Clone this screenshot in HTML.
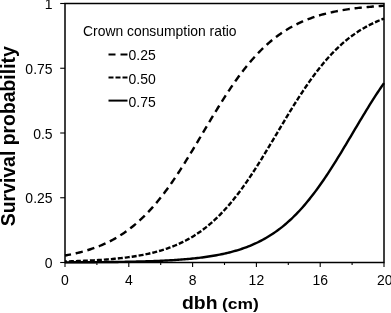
<!DOCTYPE html>
<html><head><meta charset="utf-8"><title>Survival probability</title>
<style>
html,body{margin:0;padding:0;background:#fff;}
svg{display:block;font-family:"Liberation Sans",sans-serif;}
</style></head><body>
<svg width="391" height="313" viewBox="0 0 391 313">
<rect width="391" height="313" fill="#fff"/>
<g fill="none" stroke="#000" stroke-width="2.4">
<path d="M65.00,255.51 L66.59,255.22 L68.19,254.92 L69.78,254.61 L71.38,254.29 L72.97,253.95 L74.57,253.60 L76.16,253.24 L77.76,252.86 L79.36,252.47 L80.95,252.06 L82.55,251.64 L84.14,251.20 L85.73,250.74 L87.33,250.26 L88.92,249.77 L90.52,249.26 L92.11,248.73 L93.71,248.18 L95.31,247.60 L96.90,247.01 L98.50,246.40 L100.09,245.76 L101.69,245.09 L103.28,244.41 L104.88,243.70 L106.47,242.96 L108.06,242.20 L109.66,241.41 L111.25,240.59 L112.85,239.74 L114.44,238.87 L116.04,237.96 L117.64,237.02 L119.23,236.05 L120.83,235.05 L122.42,234.02 L124.02,232.95 L125.61,231.84 L127.20,230.70 L128.80,229.53 L130.39,228.32 L131.99,227.06 L133.59,225.78 L135.18,224.45 L136.78,223.08 L138.37,221.67 L139.97,220.23 L141.56,218.74 L143.16,217.21 L144.75,215.64 L146.34,214.02 L147.94,212.37 L149.53,210.67 L151.13,208.93 L152.72,207.14 L154.32,205.31 L155.91,203.44 L157.51,201.53 L159.11,199.57 L160.70,197.57 L162.29,195.53 L163.89,193.45 L165.49,191.33 L167.08,189.17 L168.68,186.97 L170.27,184.73 L171.87,182.45 L173.46,180.14 L175.06,177.79 L176.65,175.41 L178.25,172.99 L179.84,170.55 L181.44,168.07 L183.03,165.57 L184.62,163.04 L186.22,160.48 L187.81,157.91 L189.41,155.31 L191.00,152.69 L192.60,150.06 L194.19,147.41 L195.79,144.75 L197.39,142.08 L198.98,139.41 L200.57,136.72 L202.17,134.04 L203.76,131.35 L205.36,128.66 L206.95,125.98 L208.55,123.31 L210.15,120.64 L211.74,117.98 L213.34,115.34 L214.93,112.71 L216.53,110.10 L218.12,107.50 L219.71,104.93 L221.31,102.38 L222.91,99.86 L224.50,97.36 L226.09,94.89 L227.69,92.45 L229.29,90.04 L230.88,87.67 L232.47,85.33 L234.07,83.02 L235.66,80.75 L237.26,78.52 L238.85,76.33 L240.45,74.18 L242.05,72.07 L243.64,69.99 L245.24,67.96 L246.83,65.98 L248.43,64.03 L250.02,62.13 L251.61,60.27 L253.21,58.45 L254.81,56.67 L256.40,54.94 L258.00,53.25 L259.59,51.60 L261.19,50.00 L262.78,48.44 L264.38,46.92 L265.97,45.44 L267.56,44.00 L269.16,42.60 L270.75,41.24 L272.35,39.93 L273.94,38.65 L275.54,37.40 L277.13,36.20 L278.73,35.03 L280.32,33.90 L281.92,32.80 L283.51,31.74 L285.11,30.72 L286.71,29.72 L288.30,28.76 L289.89,27.83 L291.49,26.93 L293.08,26.06 L294.68,25.22 L296.27,24.41 L297.87,23.62 L299.47,22.87 L301.06,22.14 L302.66,21.43 L304.25,20.75 L305.84,20.10 L307.44,19.46 L309.03,18.85 L310.63,18.26 L312.23,17.70 L313.82,17.15 L315.42,16.62 L317.01,16.12 L318.61,15.63 L320.20,15.16 L321.80,14.70 L323.39,14.27 L324.99,13.85 L326.58,13.44 L328.18,13.05 L329.77,12.68 L331.37,12.32 L332.96,11.97 L334.55,11.64 L336.15,11.32 L337.75,11.01 L339.34,10.71 L340.94,10.43 L342.53,10.15 L344.12,9.89 L345.72,9.63 L347.31,9.39 L348.91,9.16 L350.50,8.93 L352.10,8.71 L353.70,8.51 L355.29,8.31 L356.88,8.12 L358.48,7.93 L360.07,7.75 L361.67,7.58 L363.26,7.42 L364.86,7.26 L366.45,7.11 L368.05,6.97 L369.65,6.83 L371.24,6.69 L372.83,6.57 L374.43,6.44 L376.02,6.32 L377.62,6.21 L379.22,6.10 L380.81,6.00 L382.40,5.90 L384.00,5.80" stroke-dasharray="7.3 4.8" stroke-dashoffset="1.2"/>
<path d="M65.00,261.47 L66.59,261.42 L68.19,261.38 L69.78,261.33 L71.38,261.28 L72.97,261.23 L74.57,261.18 L76.16,261.12 L77.76,261.06 L79.36,261.00 L80.95,260.94 L82.55,260.87 L84.14,260.80 L85.73,260.73 L87.33,260.66 L88.92,260.58 L90.52,260.50 L92.11,260.42 L93.71,260.33 L95.31,260.24 L96.90,260.14 L98.50,260.04 L100.09,259.94 L101.69,259.83 L103.28,259.72 L104.88,259.60 L106.47,259.48 L108.06,259.36 L109.66,259.23 L111.25,259.09 L112.85,258.95 L114.44,258.80 L116.04,258.64 L117.64,258.48 L119.23,258.31 L120.83,258.14 L122.42,257.96 L124.02,257.77 L125.61,257.57 L127.20,257.37 L128.80,257.16 L130.39,256.93 L131.99,256.70 L133.59,256.46 L135.18,256.21 L136.78,255.95 L138.37,255.68 L139.97,255.40 L141.56,255.11 L143.16,254.81 L144.75,254.49 L146.34,254.16 L147.94,253.82 L149.53,253.47 L151.13,253.10 L152.72,252.72 L154.32,252.32 L155.91,251.90 L157.51,251.47 L159.11,251.03 L160.70,250.56 L162.29,250.08 L163.89,249.58 L165.49,249.06 L167.08,248.52 L168.68,247.96 L170.27,247.38 L171.87,246.78 L173.46,246.16 L175.06,245.51 L176.65,244.84 L178.25,244.15 L179.84,243.43 L181.44,242.68 L183.03,241.91 L184.62,241.11 L186.22,240.28 L187.81,239.42 L189.41,238.53 L191.00,237.61 L192.60,236.66 L194.19,235.68 L195.79,234.67 L197.39,233.62 L198.98,232.54 L200.57,231.42 L202.17,230.27 L203.76,229.08 L205.36,227.85 L206.95,226.59 L208.55,225.29 L210.15,223.94 L211.74,222.56 L213.34,221.14 L214.93,219.68 L216.53,218.17 L218.12,216.63 L219.71,215.04 L221.31,213.41 L222.91,211.74 L224.50,210.02 L226.09,208.26 L227.69,206.46 L229.29,204.62 L230.88,202.73 L232.47,200.80 L234.07,198.83 L235.66,196.82 L237.26,194.76 L238.85,192.67 L240.45,190.53 L242.05,188.35 L243.64,186.14 L245.24,183.88 L246.83,181.59 L248.43,179.27 L250.02,176.90 L251.61,174.51 L253.21,172.08 L254.81,169.63 L256.40,167.14 L258.00,164.63 L259.59,162.09 L261.19,159.52 L262.78,156.94 L264.38,154.33 L265.97,151.71 L267.56,149.07 L269.16,146.42 L270.75,143.76 L272.35,141.08 L273.94,138.40 L275.54,135.72 L277.13,133.03 L278.73,130.35 L280.32,127.66 L281.92,124.98 L283.51,122.31 L285.11,119.64 L286.71,116.99 L288.30,114.35 L289.89,111.73 L291.49,109.12 L293.08,106.54 L294.68,103.98 L296.27,101.44 L297.87,98.92 L299.47,96.43 L301.06,93.98 L302.66,91.55 L304.25,89.15 L305.84,86.79 L307.44,84.46 L309.03,82.17 L310.63,79.92 L312.23,77.70 L313.82,75.52 L315.42,73.39 L317.01,71.29 L318.61,69.23 L320.20,67.22 L321.80,65.24 L323.39,63.31 L324.99,61.43 L326.58,59.58 L328.18,57.78 L329.77,56.02 L331.37,54.30 L332.96,52.63 L334.55,51.00 L336.15,49.41 L337.75,47.86 L339.34,46.36 L340.94,44.90 L342.53,43.47 L344.12,42.09 L345.72,40.75 L347.31,39.44 L348.91,38.18 L350.50,36.95 L352.10,35.76 L353.70,34.61 L355.29,33.49 L356.88,32.40 L358.48,31.36 L360.07,30.34 L361.67,29.36 L363.26,28.41 L364.86,27.49 L366.45,26.60 L368.05,25.74 L369.65,24.91 L371.24,24.11 L372.83,23.34 L374.43,22.59 L376.02,21.87 L377.62,21.17 L379.22,20.50 L380.81,19.86 L382.40,19.23 L384.00,18.63" stroke-dasharray="5 2" stroke-dashoffset="3.1"/>
<path d="M65.00,262.35 L66.59,262.35 L68.19,262.34 L69.78,262.34 L71.38,262.33 L72.97,262.32 L74.57,262.31 L76.16,262.31 L77.76,262.30 L79.36,262.29 L80.95,262.28 L82.55,262.27 L84.14,262.26 L85.73,262.25 L87.33,262.24 L88.92,262.23 L90.52,262.22 L92.11,262.21 L93.71,262.19 L95.31,262.18 L96.90,262.17 L98.50,262.15 L100.09,262.14 L101.69,262.12 L103.28,262.11 L104.88,262.09 L106.47,262.07 L108.06,262.06 L109.66,262.04 L111.25,262.02 L112.85,262.00 L114.44,261.98 L116.04,261.95 L117.64,261.93 L119.23,261.91 L120.83,261.88 L122.42,261.86 L124.02,261.83 L125.61,261.80 L127.20,261.77 L128.80,261.74 L130.39,261.71 L131.99,261.67 L133.59,261.64 L135.18,261.60 L136.78,261.56 L138.37,261.52 L139.97,261.48 L141.56,261.44 L143.16,261.40 L144.75,261.35 L146.34,261.30 L147.94,261.25 L149.53,261.20 L151.13,261.14 L152.72,261.09 L154.32,261.03 L155.91,260.96 L157.51,260.90 L159.11,260.83 L160.70,260.76 L162.29,260.69 L163.89,260.61 L165.49,260.53 L167.08,260.45 L168.68,260.36 L170.27,260.27 L171.87,260.18 L173.46,260.08 L175.06,259.98 L176.65,259.88 L178.25,259.77 L179.84,259.65 L181.44,259.53 L183.03,259.41 L184.62,259.28 L186.22,259.14 L187.81,259.00 L189.41,258.86 L191.00,258.71 L192.60,258.55 L194.19,258.38 L195.79,258.21 L197.39,258.03 L198.98,257.85 L200.57,257.65 L202.17,257.45 L203.76,257.24 L205.36,257.02 L206.95,256.80 L208.55,256.56 L210.15,256.31 L211.74,256.06 L213.34,255.79 L214.93,255.52 L216.53,255.23 L218.12,254.93 L219.71,254.62 L221.31,254.30 L222.91,253.96 L224.50,253.61 L226.09,253.25 L227.69,252.87 L229.29,252.48 L230.88,252.07 L232.47,251.65 L234.07,251.21 L235.66,250.75 L237.26,250.28 L238.85,249.78 L240.45,249.27 L242.05,248.74 L243.64,248.19 L245.24,247.62 L246.83,247.03 L248.43,246.41 L250.02,245.77 L251.61,245.11 L253.21,244.43 L254.81,243.72 L256.40,242.98 L258.00,242.22 L259.59,241.43 L261.19,240.61 L262.78,239.76 L264.38,238.89 L265.97,237.98 L267.56,237.05 L269.16,236.08 L270.75,235.08 L272.35,234.04 L273.94,232.97 L275.54,231.87 L277.13,230.73 L278.73,229.56 L280.32,228.34 L281.92,227.10 L283.51,225.81 L285.11,224.48 L286.71,223.12 L288.30,221.71 L289.89,220.26 L291.49,218.78 L293.08,217.25 L294.68,215.68 L296.27,214.06 L297.87,212.41 L299.47,210.71 L301.06,208.97 L302.66,207.18 L304.25,205.36 L305.84,203.49 L307.44,201.57 L309.03,199.62 L310.63,197.62 L312.23,195.58 L313.82,193.50 L315.42,191.38 L317.01,189.22 L318.61,187.02 L320.20,184.78 L321.80,182.51 L323.39,180.20 L324.99,177.85 L326.58,175.47 L328.18,173.05 L329.77,170.61 L331.37,168.13 L332.96,165.63 L334.55,163.10 L336.15,160.54 L337.75,157.97 L339.34,155.37 L340.94,152.76 L342.53,150.12 L344.12,147.48 L345.72,144.82 L347.31,142.15 L348.91,139.47 L350.50,136.79 L352.10,134.10 L353.70,131.41 L355.29,128.73 L356.88,126.05 L358.48,123.37 L360.07,120.70 L361.67,118.05 L363.26,115.40 L364.86,112.77 L366.45,110.16 L368.05,107.56 L369.65,104.99 L371.24,102.44 L372.83,99.92 L374.43,97.42 L376.02,94.95 L377.62,92.51 L379.22,90.10 L380.81,87.73 L382.40,85.38 L384.00,83.08"/>
</g>
<g stroke="#000" stroke-width="1.5" fill="none">
<rect x="65" y="3.5" width="319" height="259"/>
</g>
<g stroke="#000" stroke-width="1.1" fill="none">
<line x1="65.00" y1="262.5" x2="65.00" y2="267.00"/><line x1="96.90" y1="262.5" x2="96.90" y2="265.00"/><line x1="128.80" y1="262.5" x2="128.80" y2="267.00"/><line x1="160.70" y1="262.5" x2="160.70" y2="265.00"/><line x1="192.60" y1="262.5" x2="192.60" y2="267.00"/><line x1="224.50" y1="262.5" x2="224.50" y2="265.00"/><line x1="256.40" y1="262.5" x2="256.40" y2="267.00"/><line x1="288.30" y1="262.5" x2="288.30" y2="265.00"/><line x1="320.20" y1="262.5" x2="320.20" y2="267.00"/><line x1="352.10" y1="262.5" x2="352.10" y2="265.00"/><line x1="384.00" y1="262.5" x2="384.00" y2="267.00"/><line x1="60.2" y1="262.50" x2="65" y2="262.50"/><line x1="60.2" y1="197.75" x2="65" y2="197.75"/><line x1="60.2" y1="133.00" x2="65" y2="133.00"/><line x1="60.2" y1="68.25" x2="65" y2="68.25"/><line x1="60.2" y1="3.50" x2="65" y2="3.50"/>
</g>
<g stroke="#000" stroke-width="2" fill="none">
<line x1="108.5" y1="54.5" x2="127.5" y2="54.5" stroke-dasharray="7 5"/>
<line x1="108.5" y1="77.5" x2="127.5" y2="77.5" stroke-dasharray="5 2"/>
<line x1="108.5" y1="100.6" x2="127.5" y2="100.6"/>
</g>
<g fill="#000">
<text transform="translate(65.00,285.30) scale(0.9720,1)" font-size="14.40px" text-anchor="middle">0</text>
<text transform="translate(128.80,285.30) scale(0.9720,1)" font-size="14.40px" text-anchor="middle">4</text>
<text transform="translate(192.60,285.30) scale(0.9720,1)" font-size="14.40px" text-anchor="middle">8</text>
<text transform="translate(256.40,285.30) scale(0.9720,1)" font-size="14.40px" text-anchor="middle">12</text>
<text transform="translate(320.20,285.30) scale(0.9720,1)" font-size="14.40px" text-anchor="middle">16</text>
<text transform="translate(384.80,285.30) scale(0.9720,1)" font-size="14.40px" text-anchor="middle">20</text>
<text transform="translate(52.60,268.10) scale(0.9720,1)" font-size="14.40px" text-anchor="end">0</text>
<text transform="translate(52.60,203.35) scale(0.9720,1)" font-size="14.40px" text-anchor="end">0.25</text>
<text transform="translate(52.60,138.60) scale(0.9720,1)" font-size="14.40px" text-anchor="end">0.5</text>
<text transform="translate(52.60,73.85) scale(0.9720,1)" font-size="14.40px" text-anchor="end">0.75</text>
<text transform="translate(52.60,9.10) scale(0.9720,1)" font-size="14.40px" text-anchor="end">1</text>
<text transform="translate(83.00,36.30) scale(0.9650,1)" font-size="14.40px">Crown consumption ratio</text>
<text transform="translate(128.50,60.00) scale(0.9720,1)" font-size="14.40px">0.25</text>
<text transform="translate(128.50,84.00) scale(0.9720,1)" font-size="14.40px">0.50</text>
<text transform="translate(128.50,107.20) scale(0.9720,1)" font-size="14.40px">0.75</text>
<text transform="translate(15.00,136.20) rotate(-90) scale(0.9600,1)" font-size="20.20px" text-anchor="middle" font-weight="bold">Survival probability</text>
<text transform="translate(182.00,309.20) scale(1.0540,1)" font-size="18.40px" font-weight="bold">dbh</text>
<text transform="translate(222.00,308.80) scale(1.1250,1)" font-size="15.50px" font-weight="bold">(cm)</text>
</g>
</svg>
</body></html>
